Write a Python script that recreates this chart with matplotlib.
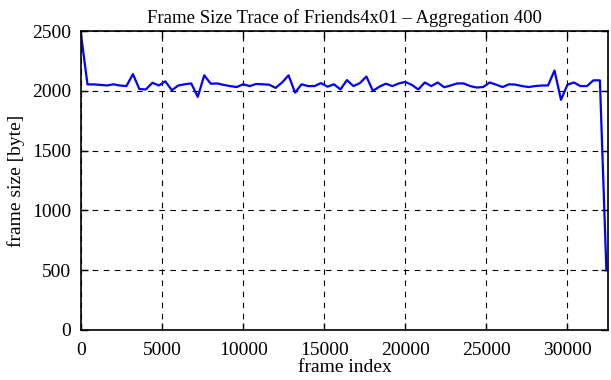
import matplotlib
matplotlib.use('Agg')
import matplotlib.pyplot as plt

# aggregated frame sizes, one value per 400 frames
aggregation = 400
frame_size = [
    2470, 2054, 2054, 2050, 2045, 2055, 2045, 2040, 2140, 2015,
    2012, 2068, 2045, 2080, 2005, 2045, 2055, 2062, 1950, 2130,
    2060, 2062, 2050, 2040, 2032, 2055, 2040, 2058, 2055, 2052,
    2025, 2070, 2130, 1985, 2055, 2040, 2040, 2065, 2035, 2055,
    2012, 2090, 2040, 2065, 2120, 2000, 2035, 2060, 2040, 2062,
    2075, 2050, 2012, 2070, 2040, 2070, 2030, 2045, 2062, 2062,
    2040, 2028, 2032, 2070, 2052, 2032, 2055, 2052, 2040, 2032,
    2040, 2045, 2045, 2170, 1925, 2052, 2070, 2040, 2040, 2088,
    2088, 500,
]
frame_index = [i * aggregation for i in range(len(frame_size))]

plt.rcParams['font.family'] = ['Liberation Serif', 'DejaVu Serif']
plt.rcParams['font.size'] = 14

f = plt.figure(figsize=(6.11, 3.80), dpi=100)
ax = f.add_axes([0.1326, 0.1316, 0.8625, 0.7866])
ax.plot(frame_index, frame_size, color='#0000ff', lw=1.6)

ax.set_xlim(0, 32500)
ax.set_ylim(0, 2500)
ax.set_xticks(range(0, 30001, 5000))
ax.set_yticks(range(0, 2501, 500))
ax.grid(True, color='black', linestyle=(0, (5, 5)), lw=0.8)
ax.tick_params(direction='in', length=5, top=True, right=True, width=1)
ax.tick_params(axis='x', pad=9)
ax.tick_params(axis='y', pad=7)
for s in ax.spines.values():
    s.set_linewidth(1.2)

ax.set_title('Frame Size Trace of Friends4x01 \u2013 Aggregation 400', fontsize=13.5, pad=6)
ax.set_xlabel('frame index', labelpad=0)
ax.set_ylabel('frame size [byte]', labelpad=5)

plt.savefig('out.png', dpi=100)
plt.close('all')
